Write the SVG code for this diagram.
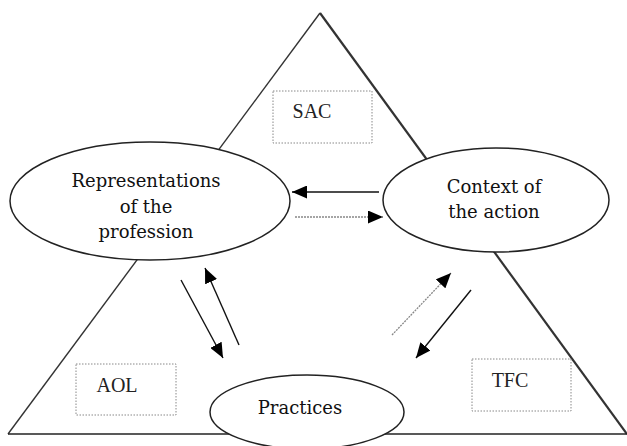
<svg xmlns="http://www.w3.org/2000/svg" width="627" height="446" viewBox="0 0 627 446">
<style>
.node{fill:#fff;stroke:#222;stroke-width:1.5}
.lbl{font-family:"DejaVu Serif","Liberation Serif",serif;font-size:18px;fill:#111;text-anchor:middle}
.box{fill:none;stroke:#888;stroke-width:1;stroke-dasharray:1.5 1.5}
.code{font-family:"Liberation Serif","DejaVu Serif",serif;font-size:20px;fill:#222;text-anchor:middle}
.solid{stroke:#111;stroke-width:1.4;fill:none}
.gray{stroke:#888;stroke-width:1.3;stroke-dasharray:2 1;fill:none}
</style>
<defs>
<marker id="ah" markerUnits="userSpaceOnUse" markerWidth="16" markerHeight="13" refX="15" refY="6.5" orient="auto">
<path d="M0,0 L15,6.5 L0,13 z" fill="#000"/>
</marker>
</defs>
<rect width="627" height="446" fill="#fff"/>
<g id="triangle">
<line x1="320" y1="13" x2="8" y2="434" stroke="#333" stroke-width="1.4"/>
<line x1="320" y1="13" x2="627" y2="434" stroke="#333" stroke-width="2.2"/>
<line x1="8" y1="434" x2="627" y2="434" stroke="#222" stroke-width="1.6"/>
</g>
<g id="sac">
<rect class="box" x="273" y="91" width="99" height="52"/>
<text class="code" x="312" y="118">SAC</text>
</g>
<g id="aol">
<rect class="box" x="76" y="364" width="100" height="51"/>
<text class="code" x="117" y="392">AOL</text>
</g>
<g id="tfc">
<rect class="box" x="472" y="359" width="99" height="52"/>
<text class="code" x="510" y="387">TFC</text>
</g>
<g id="representations">
<ellipse class="node" cx="150" cy="201" rx="140" ry="59"/>
<text class="lbl" x="146" y="187">Representations</text>
<text class="lbl" x="146" y="213">of the</text>
<text class="lbl" x="146" y="238">profession</text>
</g>
<g id="context">
<ellipse class="node" cx="496" cy="200" rx="113" ry="52"/>
<text class="lbl" x="494" y="193">Context of</text>
<text class="lbl" x="494" y="218">the action</text>
</g>
<g id="practices">
<ellipse class="node" cx="307" cy="412" rx="97" ry="37"/>
<text class="lbl" x="300" y="414">Practices</text>
</g>
<g id="connectors">
<line class="solid" x1="379" y1="192" x2="292" y2="192" marker-end="url(#ah)"/>
<line class="gray" x1="295" y1="217" x2="383" y2="217" marker-end="url(#ah)"/>
<line class="solid" x1="181" y1="280" x2="223" y2="358" marker-end="url(#ah)"/>
<line class="solid" x1="239" y1="345" x2="205" y2="268" marker-end="url(#ah)"/>
<line class="gray" x1="392" y1="335" x2="451" y2="273" marker-end="url(#ah)"/>
<line class="solid" x1="471" y1="290" x2="416" y2="358" marker-end="url(#ah)"/>
</g>
</svg>
